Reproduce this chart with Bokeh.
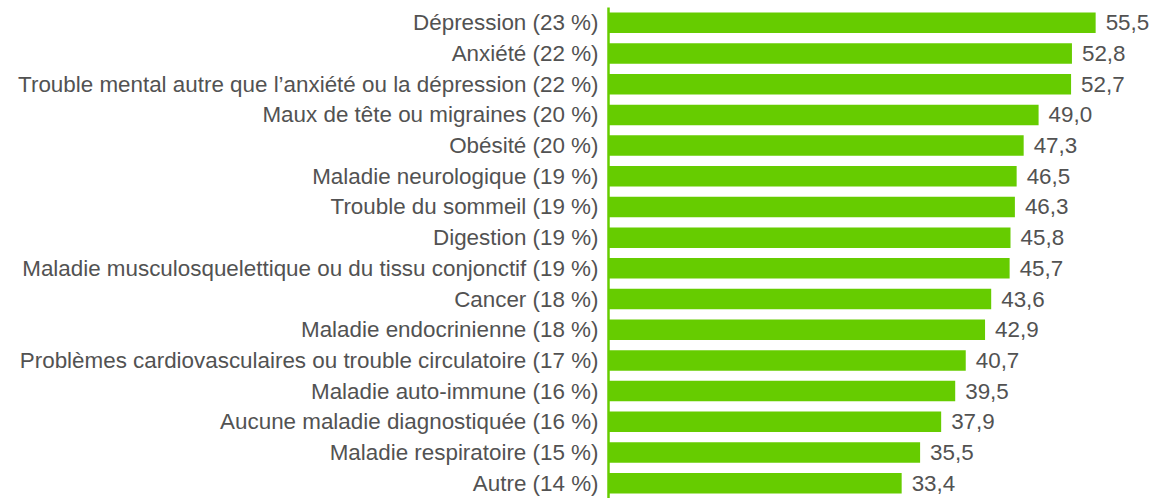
from bokeh.plotting import figure
from bokeh.models import Range1d, FactorRange, ColumnDataSource
from bokeh.core.properties import value
from bokeh.embed import file_html
from bokeh.resources import INLINE

categories = [
    "Dépression (23 %)",
    "Anxiété (22 %)",
    "Trouble mental autre que l’anxiété ou la dépression (22 %)",
    "Maux de tête ou migraines (20 %)",
    "Obésité (20 %)",
    "Maladie neurologique (19 %)",
    "Trouble du sommeil (19 %)",
    "Digestion (19 %)",
    "Maladie musculosquelettique ou du tissu conjonctif (19 %)",
    "Cancer (18 %)",
    "Maladie endocrinienne (18 %)",
    "Problèmes cardiovasculaires ou trouble circulatoire (17 %)",
    "Maladie auto-immune (16 %)",
    "Aucune maladie diagnostiquée (16 %)",
    "Maladie respiratoire (15 %)",
    "Autre (14 %)",
]
values = [55.5, 52.8, 52.7, 49.0, 47.3, 46.5, 46.3, 45.8, 45.7, 43.6, 42.9, 40.7, 39.5, 37.9, 35.5, 33.4]
value_labels = [f"{v:.1f}".replace(".", ",") for v in values]

GREEN = "#66cc00"
TEXT = "#525252"
FONT = "Liberation Sans"

src = ColumnDataSource(dict(cat=categories, val=values, lab=value_labels))

p = figure(
    width=1168, height=498,
    y_range=FactorRange(factors=list(reversed(categories))),
    x_range=Range1d(0, 63.8),
    output_backend="svg", toolbar_location=None,
    min_border_left=608, min_border_right=0, min_border_top=7, min_border_bottom=0,
)
p.hbar(y="cat", right="val", left=0, height=0.67, source=src, color=GREEN, line_color=None)
p.text(x="val", y="cat", text="lab", source=src, x_offset=10, text_baseline="middle",
       text_align="left", text_font=value(FONT), text_font_size="22.4px", text_color=TEXT)

p.xaxis.visible = False
p.xgrid.grid_line_color = None
p.ygrid.grid_line_color = None
p.outline_line_color = None
yax = p.yaxis[0]
yax.axis_line_color = GREEN
yax.axis_line_width = 2.5
yax.major_tick_line_color = None
yax.minor_tick_line_color = None
yax.major_tick_out = 0
yax.major_tick_in = 0
yax.major_label_standoff = 10
yax.major_label_text_font = FONT
yax.major_label_text_font_size = "22.4px"
yax.major_label_text_color = TEXT

open("out.html", "w").write(file_html(p, INLINE))
